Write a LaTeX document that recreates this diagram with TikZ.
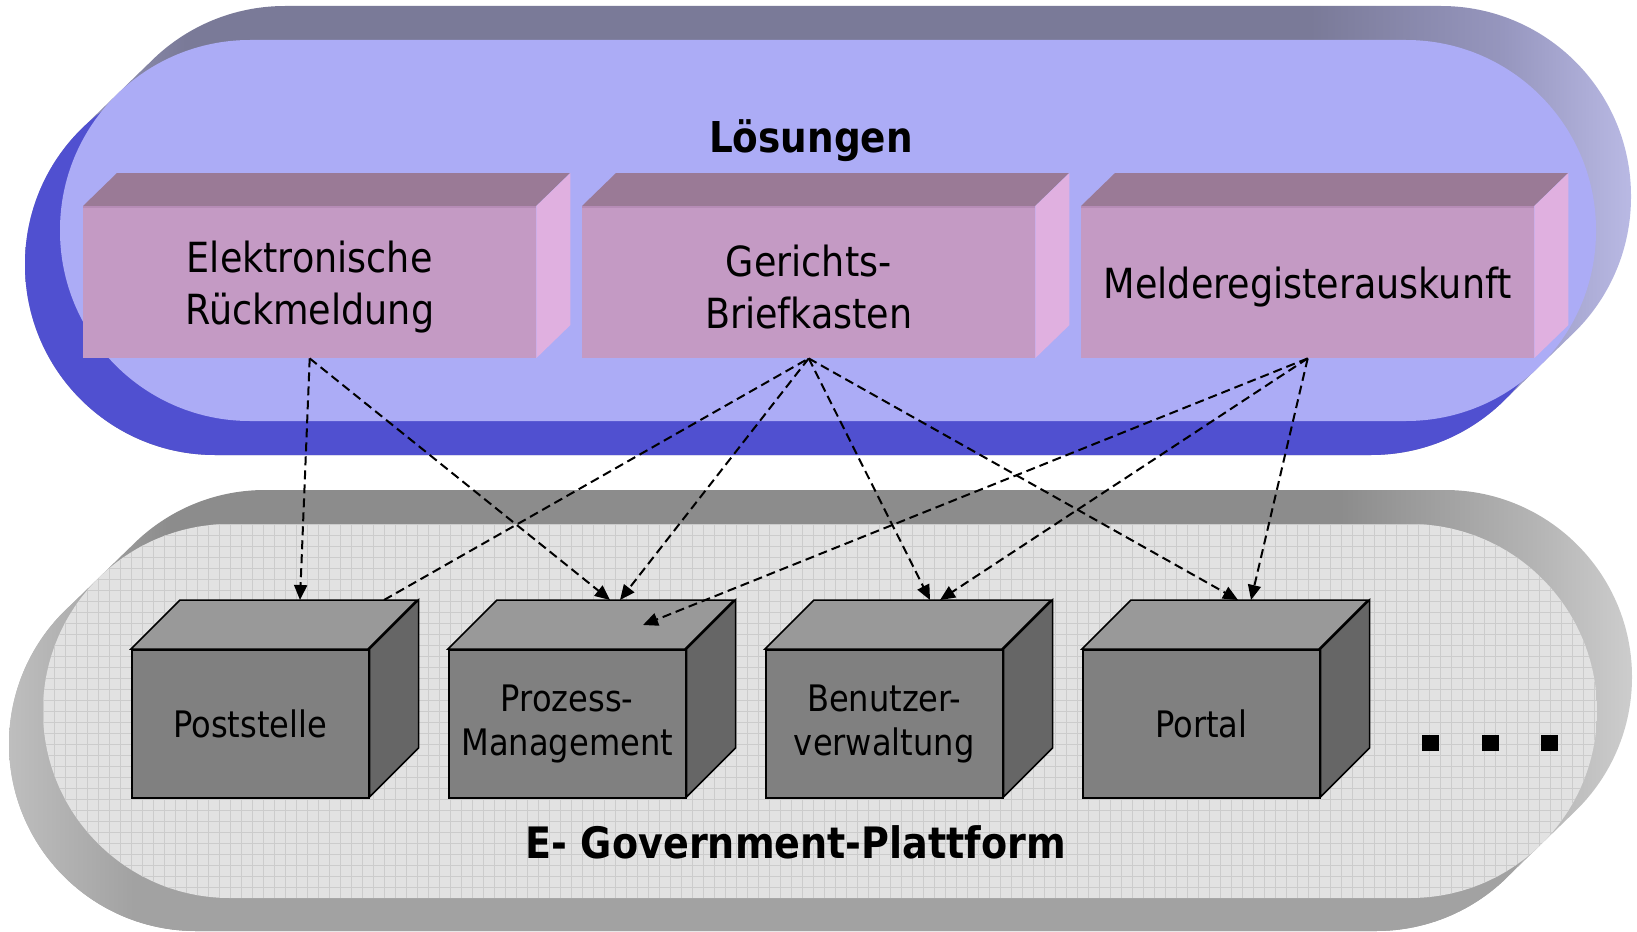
\documentclass[tikz,border=0pt]{standalone}
\usepackage{fontspec}
\setmainfont{DejaVu Sans}[FakeStretch=0.88]
\usetikzlibrary{arrows.meta}
\definecolor{tb1}{RGB}{165,165,200}
\definecolor{tb2}{RGB}{122,122,152}
\definecolor{tb3}{RGB}{150,150,190}
\definecolor{tb4}{RGB}{185,185,228}
\definecolor{tbB}{RGB}{80,80,208}
\definecolor{tface}{RGB}{172,172,246}
\definecolor{bb1}{RGB}{185,185,185}
\definecolor{bb2}{RGB}{140,140,140}
\definecolor{bb3}{RGB}{180,180,180}
\definecolor{bb4}{RGB}{205,205,205}
\definecolor{bbB1}{RGB}{190,190,190}
\definecolor{bbB2}{RGB}{162,162,162}
\definecolor{bface}{RGB}{226,226,226}
\definecolor{bgrid}{RGB}{204,204,204}
\definecolor{pinkF}{RGB}{196,154,196}
\definecolor{pinkT}{RGB}{154,122,150}
\definecolor{pinkR}{RGB}{224,176,224}
\definecolor{pinkE}{RGB}{182,140,182}
\definecolor{grayF}{RGB}{128,128,128}
\definecolor{grayT}{RGB}{153,153,153}
\definecolor{grayR}{RGB}{102,102,102}
\pgfdeclarehorizontalshading{topouter}{100bp}{color(0bp)=(tb1); color(25bp)=(tb1); color(30bp)=(tb2); color(65bp)=(tb2); color(71bp)=(tb3); color(75bp)=(tb4); color(100bp)=(tb4)}
\pgfdeclarehorizontalshading{botouter}{100bp}{color(0bp)=(bb1); color(25bp)=(bb1); color(30bp)=(bb2); color(66bp)=(bb2); color(72bp)=(bb3); color(75bp)=(bb4); color(100bp)=(bb4)}
\pgfdeclarehorizontalshading{botB}{100bp}{color(0bp)=(bbB1); color(25bp)=(bbB1); color(29bp)=(bbB2); color(100bp)=(bbB2)}
\tikzset{
  pinkfront/.style={fill=pinkF, minimum width=453pt, minimum height=152pt, inner sep=0pt, anchor=north west},
  pinklabel/.style={align=center, font=\fontsize{41.5}{52}\selectfont, inner sep=0pt},
  grayfront/.style={fill=grayF, draw=black, line width=1.5pt, minimum width=237pt, minimum height=148pt, inner sep=0pt, anchor=north west, align=center, font=\fontsize{36.5}{44}\selectfont},
  grayface/.style={draw=black, line width=1.5pt, line join=miter},
  conn/.style={draw=black, line width=2pt, dash pattern=on 9pt off 5pt, -{Triangle[length=15pt,width=13pt]}},
  connplain/.style={draw=black, line width=2pt, dash pattern=on 9pt off 5pt},
  gridl/.style={draw=bgrid, line width=1pt},
  titletext/.style={anchor=base, font=\bfseries\fontsize{42.5}{50}\selectfont},
  platformtext/.style={anchor=base, font=\bfseries\fontsize{43.3}{50}\selectfont}
}
\newcommand\pinkcube[3]{%
  \node[pinkfront] (#1) at (#2,206) {};
  \fill[pinkT] (#1.north west) -- ++(34,-33) -- ++(453,0) -- ++(-34,33) -- cycle;
  \fill[pinkR] (#1.north east) -- ++(34,-33) -- ++(0,152) -- ++(-34,33) -- cycle;
  \draw[pinkE, line width=2pt] ([yshift=-1pt]#1.north west) -- ([yshift=-1pt]#1.north east);
  \node[pinklabel] (#1-label) at ([yshift=-5pt]#1.center) {#3};
}
\newcommand\graycube[3]{%
  \node[grayfront] (#1) at (#2,649) {#3};
  \filldraw[grayface, fill=grayT] (#1.north west) -- ++(49,-49) -- ++(237,0) -- ++(-49,49) -- cycle;
  \filldraw[grayface, fill=grayR] (#1.north east) -- ++(49,-49) -- ++(0,148) -- ++(-49,49) -- cycle;
}
\begin{document}
\begin{tikzpicture}[x=1pt, y=-1pt]
\useasboundingbox (0,0) rectangle (1637,931);
% top pill
\shade[shading=topouter, rounded corners=190pt] \foreach \k in {0,...,10} { ({25+7*\k},{74-6.8*\k}) rectangle ({1561+7*\k},{455-6.8*\k}) };
\fill[tbB, rounded corners=190pt] (25,74) rectangle (1561,455);
\fill[tface, rounded corners=190pt] (60,40) rectangle (1596,421);
% bottom pill
\shade[shading=botouter, rounded corners=187pt] \foreach \k in {0,...,10} { ({9+6.9*\k},{557-6.7*\k}) rectangle ({1563+6.9*\k},{931-6.7*\k}) };
\shade[shading=botB, rounded corners=187pt] (9,557) rectangle (1563,931);
\begin{scope}
  \clip[rounded corners=187pt] (43,524) rectangle (1597,898);
  \fill[bface] (43,524) rectangle (1597,898);
  \foreach \i in {0,...,141} \draw[gridl] ({43+11*\i},524) -- ++(0,374);
  \foreach \j in {0,...,34} \draw[gridl] (43,{524+11*\j}) -- ++(1554,0);
\end{scope}
% titles
\node[titletext] (loes) at (811,152) {Lösungen};
\node[platformtext] (egov) at (796,858) {E- Government-Plattform};
% solution boxes
\pinkcube{el}{83}{Elektronische\\Rückmeldung}
\pinkcube{ge}{582}{Gerichts-\\Briefkasten}
\pinkcube{me}{1081}{Melderegisterauskunft}
% platform boxes
\graycube{post}{131}{Poststelle}
\graycube{proz}{448}{Prozess-\\Management}
\graycube{benu}{765}{Benutzer-\\verwaltung}
\graycube{port}{1082}{Portal}
% dots
\fill (1422,735) rectangle ++(17,16);
\fill (1482,735) rectangle ++(17,16);
\fill (1541,735) rectangle ++(17,16);
% connector end points
\coordinate (tP1) at (300,600);
\coordinate (sP1) at (384,600);
\coordinate (tP2a) at (610,600);
\coordinate (tP2b) at (620,600);
\coordinate (tP2c) at (643,625);
\coordinate (tB1) at (930,600);
\coordinate (tB2) at (940,600);
\coordinate (tR1) at (1238,600);
\coordinate (tR2) at (1251,600);
% connectors
\draw[conn] (el.south) -- (tP1);
\draw[conn] (el.south) -- (tP2a);
\draw[conn] (ge.south) -- (tP2b);
\draw[conn] (ge.south) -- (tB1);
\draw[conn] (ge.south) -- (tR1);
\draw[connplain] (sP1) -- (ge.south);
\draw[conn] (me.south) -- (tP2c);
\draw[conn] (me.south) -- (tB2);
\draw[conn] (me.south) -- (tR2);
\end{tikzpicture}
\end{document}
